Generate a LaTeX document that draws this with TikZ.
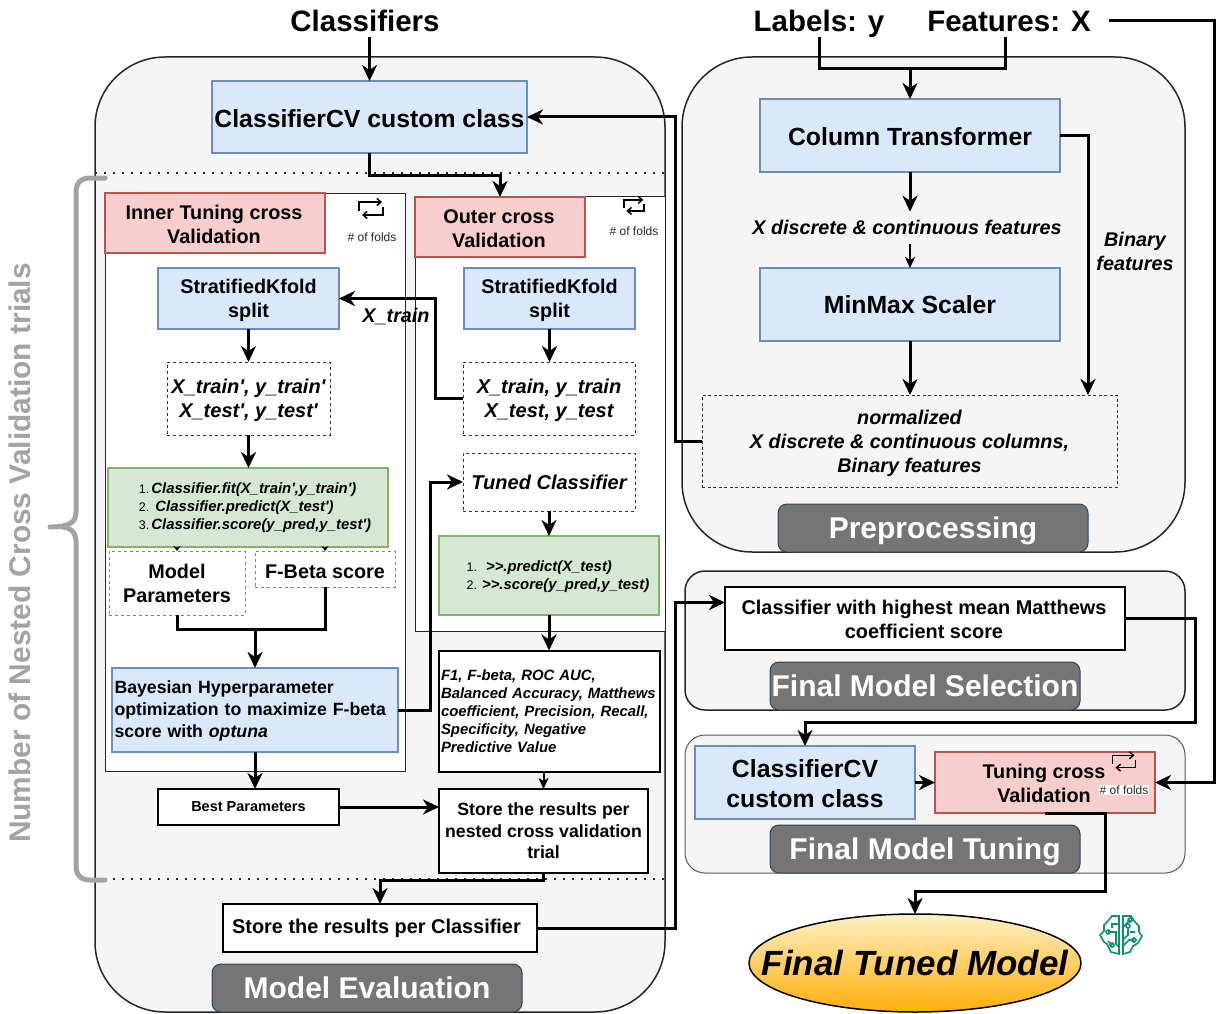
\documentclass[tikz,border=0pt]{standalone}
\usepackage{fontspec}
\usepackage{tikz}
\usetikzlibrary{arrows.meta,shapes.geometric}
\newfontfamily\arialfont{Liberation Sans}
\definecolor{panelGray}{HTML}{F5F5F5}
\definecolor{blueFill}{HTML}{DAE8FC}
\definecolor{blueLine}{HTML}{6C8EBF}
\definecolor{redFill}{HTML}{F8CECC}
\definecolor{redLine}{HTML}{B85450}
\definecolor{greenFill}{HTML}{D5E8D4}
\definecolor{greenLine}{HTML}{82B366}
\definecolor{titleFill}{HTML}{757575}
\definecolor{titleLine}{HTML}{314354}
\definecolor{braceGray}{HTML}{A3A3A3}
\definecolor{brainTeal}{HTML}{0F8F6F}
\definecolor{goldTop}{HTML}{FFF0C4}
\definecolor{goldLow}{HTML}{FFAF0A}
\newcommand{\sz}[2]{\fontsize{#1}{#2}\selectfont}
\tikzstyle{base}=[shape = rectangle, inner sep = 0pt, outer sep = 0pt, align = center, text = black]
\tikzstyle{panel}=[base, draw = black!85, fill = panelGray, line width = 1.5pt]
\tikzstyle{blueBox}=[base, draw = blueLine, fill = blueFill, line width = 2pt]
\tikzstyle{redBox}=[base, draw = redLine, fill = redFill, line width = 2pt]
\tikzstyle{greenBox}=[base, draw = greenLine, fill = greenFill, line width = 2pt]
\tikzstyle{whiteBox}=[base, draw = black, fill = white, line width = 2pt]
\tikzstyle{cvFrame}=[base, draw = black!85, fill = white, line width = 1pt]
\tikzstyle{dashBox}=[base, draw = black!80, fill = white, line width = 1pt, dash pattern = on 3pt off 3pt]
\tikzstyle{greyDash}=[base, draw = black!50, fill = white, line width = 1pt, dash pattern = on 3pt off 3pt]
\tikzstyle{titleBox}=[base, draw = titleLine, fill = titleFill, line width = 1pt, rounded corners = 9pt, text = white, text depth = 0pt, font = \bfseries\sz{30}{36}]
\tikzstyle{plainText}=[base]
\tikzstyle{inputText}=[base, text height = 21.5pt, text depth = 5.5pt, font = \bfseries\sz{29.5}{35}]
\tikzstyle{flow}=[line width = 3pt, draw = black, -{Stealth[length = 16pt, width = 15pt, inset = 5pt]}]
\tikzstyle{flowThin}=[line width = 2pt, draw = black, -{Stealth[length = 11pt, width = 10pt, inset = 3pt]}]
\tikzstyle{flowTiny}=[line width = 1pt, draw = black, -{Stealth[length = 5pt, width = 7pt]}]
\tikzstyle{flowPlain}=[line width = 3pt, draw = black]
\tikzstyle{dotLine}=[line width = 1.6pt, draw = black!85, dash pattern = on 1.6pt off 7.4pt]
\tikzstyle{foldsText}=[base, font = \sz{12}{14}, text = black!85]
\tikzset{
  foldsIcon/.pic = {
    \draw[line width = 1.5pt, -{Straight Barb[length = 4pt, width = 7pt]}] (-12,3) -- (-12,-6) -- (11,-6);
    \draw[line width = 1.5pt, -{Straight Barb[length = 4pt, width = 7pt]}] (12,-1) -- (12,7) -- (-9,7);
  }
}
\begin{document}
\arialfont
\begin{tikzpicture}[x = 1pt, y = -1pt]
\useasboundingbox (0,0) rectangle (1226,1014);
% grey panels
\node[panel, rounded corners = 70pt, minimum width = 570pt, minimum height = 955pt] (evalPanel) at (380,534.5) {};
\node[panel, rounded corners = 70pt, minimum width = 503pt, minimum height = 495pt] (prepPanel) at (933.5,304.5) {};
\node[panel, rounded corners = 20pt, minimum width = 500pt, minimum height = 139pt] (selectPanel) at (935,640.5) {};
\node[panel, draw = black!65, line width = 1pt, rounded corners = 20pt, minimum width = 500pt, minimum height = 138pt] (tunePanel) at (935,804) {};
% cross validation frames
\node[cvFrame, minimum width = 300pt, minimum height = 578pt] (innerFrame) at (255,482) {};
\node[cvFrame, minimum width = 250pt, minimum height = 435pt] (outerFrame) at (540,413.5) {};
% dotted limits
\coordinate (dotTopL) at (95,173);
\coordinate (dotTopR) at (665,173);
\coordinate (dotLowL) at (95,879);
\coordinate (dotLowR) at (665,879);
\draw[dotLine] (dotTopL) -- (dotTopR);
\draw[dotLine] (dotLowL) -- (dotLowR);
% brace and its label
\draw[braceGray, line width = 5pt, line cap = round] (105,178) -- (90,178) .. controls (81,178) and (76,183) .. (76,192) -- (76,512) .. controls (76,522) and (70,527) .. (50,527);
\draw[braceGray, line width = 5pt, line cap = round] (105,880) -- (90,880) .. controls (81,880) and (76,875) .. (76,866) -- (76,542) .. controls (76,532) and (70,527) .. (62,527);
\node[plainText, rotate = 90, text = braceGray, font = \bfseries\sz{29.9}{35}] (nestedLabel) at (20,553) {Number of Nested Cross Validation trials};
% top inputs
\node[inputText] (classifiersIn) at (365,23.5) {Classifiers};
\node[inputText] (labelsIn) at (819,23.5) {Labels: y};
\node[inputText] (featuresIn) at (1009,23.5) {Features: X};
% model evaluation, left side
\node[blueBox, minimum width = 315pt, minimum height = 72pt, text height = 22pt, font = \bfseries\sz{24.8}{30}] (clfCV) at (369.5,117) {ClassifierCV custom class};
\node[redBox, minimum width = 220pt, minimum height = 60pt, text height = 40.5pt, font = \bfseries\sz{19.8}{24}] (innerRed) at (215,223) {\hspace*{-2pt}Inner Tuning cross\\\hspace*{-2pt}Validation};
\pic at (371,208) {foldsIcon};
\node[foldsText] (innerFolds) at (372,237) {\# of folds};
\node[blueBox, minimum width = 181pt, minimum height = 61pt, text depth = 0pt, font = \bfseries\sz{19.8}{24}] (innerSplit) at (248.5,298.5) {StratifiedKfold\\split};
\node[dashBox, minimum width = 163pt, minimum height = 73pt, text depth = 0pt, font = \bfseries\itshape\sz{20}{24}] (innerData) at (248.5,398.5) {X\_train', y\_train'\\X\_test', y\_test'};
\node[greenBox, minimum width = 280pt, minimum height = 79pt, text depth = 2pt, align = left, font = \sz{14.9}{18}] (innerFit) at (248,507.5) {\hspace*{14pt}{\sz{12.5}{18}1.}\hspace{2pt}\textbf{\textit{Classifier.fit(X\_train',y\_train')}}\\\hspace*{14pt}{\sz{12.5}{18}2.}\hspace{6pt}\textbf{\textit{Classifier.predict(X\_test')}}\\\hspace*{14pt}{\sz{12.5}{18}3.}\hspace{2pt}\textbf{\textit{Classifier.score(y\_pred,y\_test')}}};
\node[greyDash, minimum width = 136pt, minimum height = 64pt, text depth = 0pt, font = \bfseries\sz{19.8}{24}] (modelParams) at (177,583) {Model\\Parameters};
\node[greyDash, minimum width = 140pt, minimum height = 36pt, text height = 18.5pt, font = \bfseries\sz{19.8}{24}] (fBeta) at (325,569) {F-Beta score};
\node[blueBox, minimum width = 286pt, minimum height = 84pt, text width = 281pt, text depth = 45pt, align = left, font = \bfseries\sz{17.7}{22}] (bayesOpt) at (255,710) {Bayesian Hyperparameter\\optimization to maximize F-beta\\score with \textit{optuna}};
\node[whiteBox, line width = 1.6pt, minimum width = 181pt, minimum height = 36pt, font = \bfseries\sz{14.5}{18}] (bestParams) at (248.5,807) {Best Parameters};
% model evaluation, right side
\node[redBox, minimum width = 170pt, minimum height = 60pt, text height = 40.5pt, font = \bfseries\sz{19.8}{24}] (outerRed) at (500,227) {\hspace*{-2pt}Outer cross\\\hspace*{-2pt}Validation};
\pic[scale = 0.85] at (634,205) {foldsIcon};
\node[foldsText] (outerFolds) at (634,231) {\# of folds};
\node[blueBox, minimum width = 171pt, minimum height = 61pt, text depth = 0pt, font = \bfseries\sz{19.8}{24}] (outerSplit) at (549.5,298.5) {StratifiedKfold\\split};
\node[dashBox, minimum width = 172pt, minimum height = 73pt, text depth = 0pt, font = \bfseries\itshape\sz{20}{24}] (outerData) at (549,398.5) {X\_train, y\_train\\X\_test, y\_test};
\node[dashBox, minimum width = 172pt, minimum height = 58pt, font = \bfseries\itshape\sz{20}{24}] (tunedClf) at (549,482) {Tuned Classifier};
\node[greenBox, minimum width = 220pt, minimum height = 79pt, text depth = 0pt, align = left, font = \sz{14.9}{18}] (outerFit) at (549,575.5) {\hspace*{18pt}{\sz{12.5}{18}1.}\hspace{9pt}\textbf{\textit{>>.predict(X\_test)}}\\\hspace*{18pt}{\sz{12.5}{18}2.}\hspace{5pt}\textbf{\textit{>>.score(y\_pred,y\_test)}}};
\node[whiteBox, minimum width = 221pt, minimum height = 121pt, text width = 217pt, align = left, font = \bfseries\itshape\sz{14.9}{18}] (metricsBox) at (549.5,711) {F1, F-beta, ROC AUC,\\Balanced Accuracy, Matthews\\coefficient, Precision, Recall,\\Specificity, Negative\\Predictive Value\\[8pt]};
\node[whiteBox, minimum width = 209pt, minimum height = 84pt, font = \bfseries\sz{17.7}{21.5}] (storeTrial) at (543.5,831) {Store the results per\\nested cross validation\\trial};
\node[whiteBox, minimum width = 314pt, minimum height = 48pt, font = \bfseries\sz{19.9}{24}] (storeClf) at (380,928) {Store the results per Classifier\hspace*{7pt}};
\node[titleBox, minimum width = 310pt, minimum height = 48pt] (evalTitle) at (367,988) {Model Evaluation};
% preprocessing
\node[blueBox, minimum width = 300pt, minimum height = 73pt, text height = 20pt, font = \bfseries\sz{24.8}{30}] (colTrans) at (910,135.5) {Column Transformer};
\node[plainText, font = \bfseries\itshape\sz{19.8}{24}] (xFeatures) at (907,227) {X discrete \& continuous features};
\node[plainText, font = \bfseries\itshape\sz{19.8}{24}] (binaryText) at (1135,251) {Binary\\features};
\node[blueBox, minimum width = 300pt, minimum height = 73pt, text height = 19pt, font = \bfseries\sz{24.8}{30}] (minMax) at (910,304.5) {MinMax Scaler};
\node[dashBox, dash pattern = on 3pt off 2.5pt, fill = none, minimum width = 415pt, minimum height = 92pt, text depth = 0pt, font = \bfseries\itshape\sz{19.8}{24}] (normBox) at (909.5,441) {normalized\\X discrete \& continuous columns,\\Binary features};
\node[titleBox, minimum width = 310pt, minimum height = 48pt] (prepTitle) at (933,528) {Preprocessing};
% final model selection
\node[whiteBox, minimum width = 400pt, minimum height = 63pt, text height = 40.5pt, font = \bfseries\sz{19.9}{24}] (bestClf) at (925,618.5) {\hspace*{-2pt}Classifier with highest mean Matthews\\\hspace*{-2pt}coefficient score};
\node[titleBox, minimum width = 310pt, minimum height = 48pt] (selectTitle) at (925,686) {Final Model Selection};
% final model tuning
\node[blueBox, minimum width = 220pt, minimum height = 73pt, text height = 50pt, font = \bfseries\sz{24.8}{30}] (finalCV) at (805,782.5) {ClassifierCV\\custom class};
\node[redBox, minimum width = 220pt, minimum height = 61pt, text height = 40.5pt, font = \bfseries\sz{19.8}{24}] (tuneRed) at (1045,782.5) {\hspace*{-2pt}Tuning cross\\\hspace*{-2pt}Validation};
\pic[scale = 0.95] at (1124,761) {foldsIcon};
\node[foldsText, fill = white, inner xsep = 1pt, inner ysep = 1pt] (tuneFolds) at (1124,790) {\# of folds};
\node[titleBox, minimum width = 310pt, minimum height = 48pt] (tuneTitle) at (925,849) {Final Model Tuning};
% result
\node[base, shape = ellipse, draw = black, line width = 1.5pt, minimum width = 332pt, minimum height = 98pt, top color = goldTop, bottom color = goldLow] (finalModel) at (915,963) {};
\node[plainText, font = \bfseries\itshape\sz{35}{42}] (finalText) at (915,963) {Final Tuned Model};
% brain icon
\begin{scope}[shift = {(1121,935)}, brainTeal, line width = 1.6pt]
\draw (-2,-19) -- (-9,-19) -- (-13,-14) -- (-17,-10) -- (-17,-4) -- (-21,0) -- (-17,7) -- (-14,9) -- (-10,17) -- (-2,19) -- cycle;
\draw (2,-19) -- (10,-19) -- (14,-13) -- (18,-9) -- (18,-3) -- (21,1) -- (17,8) -- (12,11) -- (9,17) -- (2,19) -- cycle;
\draw (-2,-11) -- (-9,-11) -- (-9,-7);
\draw (-13,-3) circle (2pt) -- (-5,-3) -- (-5,9) -- (-2,12);
\draw (-13,6) -- (-9,10) circle (2pt);
\draw (2,-8) -- (9,-15) circle (2pt);
\draw (7,-9) circle (2pt) (7,-6) -- (7,0) -- (2,5);
\draw (2,11) -- (8,5) -- (13,5) circle (2pt);
\draw (14,-3) -- (9,-3);
\end{scope}
% connectors
\draw[flow] (classifiersIn.south -| clfCV.north) -- (clfCV.north);
\draw[flowPlain] (labelsIn.south) -- ++(0,32) -| ([xshift = -4pt]featuresIn.south);
\draw[flow] (labelsIn.south) ++(91,32) -- (colTrans.north);
\draw[flow] (clfCV.south) -- ++(0,22) -| (outerRed.north);
\draw[flow] (normBox.west) -- ++(-27,0) |- (clfCV.east);
\draw[flow] (colTrans.south) -- ([yshift = 8pt]xFeatures.north -| colTrans.south);
\draw[flowThin] ([yshift = -10pt]xFeatures.south -| minMax.north) -- (minMax.north);
\draw[flow] (minMax.south) -- (normBox.north -| minMax.south);
\draw[flow] (colTrans.east) -| ([xshift = 178.5pt]normBox.north);
\draw[flow] (innerSplit.south) -- (innerData.north);
\draw[flow] (innerData.south) -- (innerFit.north -| innerData.south);
\draw[flow] (outerSplit.south) -- (outerData.north -| outerSplit.south);
\draw[flow] (outerData.west) -- ++(-28,0) |- (innerSplit.east);
\node[plainText, text depth = 0pt, font = \bfseries\itshape\sz{19.8}{24}] (xTrainLabel) at (396,315) {X\_train};
\draw[flow] (bayesOpt.east) -- ++(32,0) |- (tunedClf.west);
\draw[flow] (tunedClf.south) -- (outerFit.north);
\draw[flow] (outerFit.south) -- (metricsBox.north -| outerFit.south);
\draw[flowThin] (metricsBox.south -| storeTrial.north) -- (storeTrial.north);
\draw[flow] (bestParams.east) -- (storeTrial.west |- bestParams.east);
\draw[flow] (bayesOpt.south) -- (bestParams.north -| bayesOpt.south);
\draw[flowTiny] (innerFit.south -| modelParams.north) -- (modelParams.north);
\draw[flowTiny] (innerFit.south -| fBeta.north) -- (fBeta.north);
\draw[flowPlain] (modelParams.south) -- ++(0,14) -| (fBeta.south);
\draw[flow] (bayesOpt.north) ++(0,-39) -- (bayesOpt.north);
\draw[flow] (storeTrial.south) -- ++(0,7) -| (storeClf.north);
\draw[flow] (storeClf.east) -- ++(138,0) |- ([yshift = 16pt]bestClf.west);
\draw[flow] (bestClf.east) -- ++(70,0) -- ++(0,104) -| (finalCV.north);
\draw[flow] (finalCV.east) -- (tuneRed.west);
\draw[flow] (featuresIn.east) ++(18,-2.5) -- ++(106,0) |- (tuneRed.east);
\draw[flow] (tuneRed.south) -- ++(60,0) -- ++(0,78) -| (finalModel.north);
\end{tikzpicture}
\end{document}
